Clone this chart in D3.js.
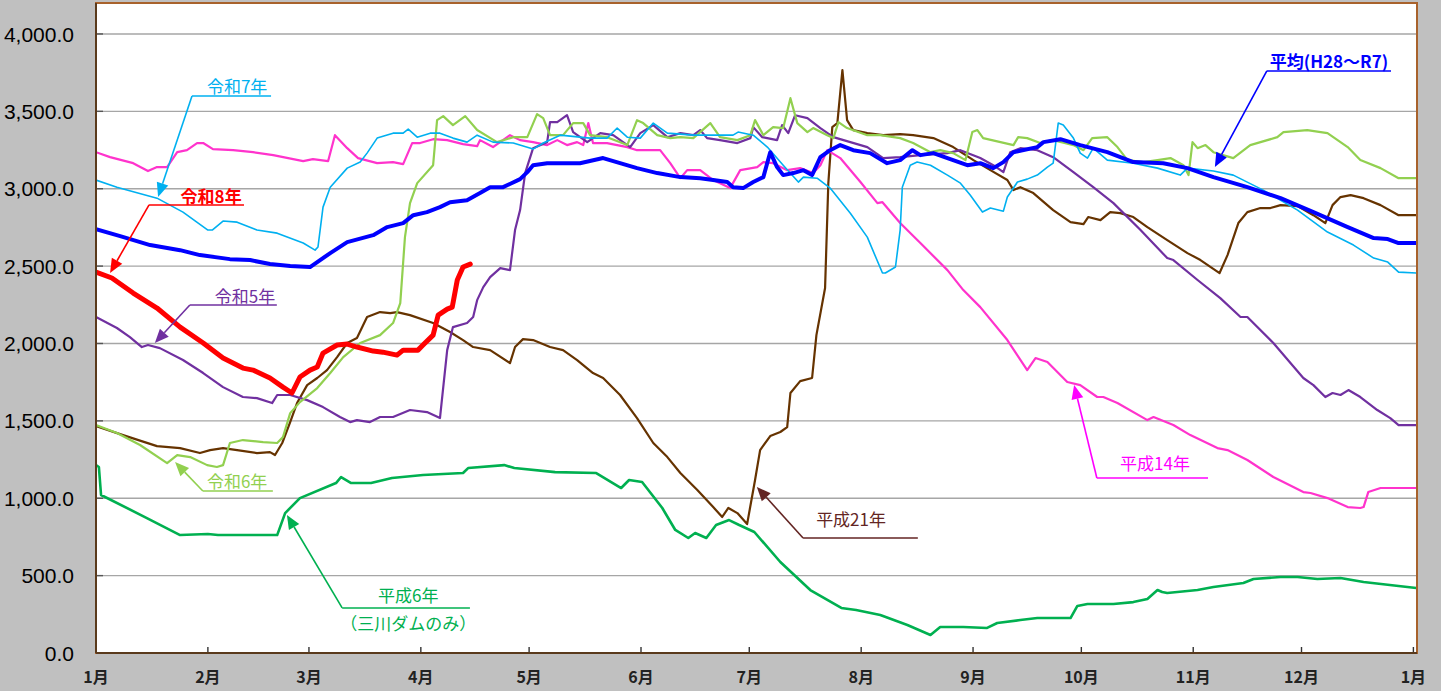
<!DOCTYPE html>
<html><head><meta charset="utf-8">
<script src="https://cdn.jsdelivr.net/npm/d3@7"></script>
<style>html,body{margin:0;padding:0;background:#c0c0c0;}svg{display:block;}</style>
</head><body>
<svg id="chart" width="1441" height="691"></svg>
<script>
// ---- Data (day of year, storage value) ----
const monthStarts = [0,31,59,90,120,151,181,212,243,273,304,334,365];
const monthLabels = ["1月","2月","3月","4月","5月","6月","7月","8月","9月","10月","11月","12月","1月"];
const yTicks = [0,500,1000,1500,2000,2500,3000,3500,4000];

const avgData = [[0,2739],[6.7,2694],[15,2636],[23.3,2603],[28.8,2571],[37.1,2545],[42.7,2539],[48.2,2513],[53.8,2500],[59.3,2494],[64.9,2584],[69.6,2655],[76.8,2700],[80.7,2752],[85.1,2778],[87.9,2829],[91.7,2849],[95.3,2881],[98.1,2913],[102.8,2926],[106.4,2972],[109.2,3010],[112.8,3010],[117.5,3062],[119.5,3107],[121.1,3152],[125,3165],[134.1,3165],[140.5,3198],[145.2,3165],[149.9,3133],[155.5,3101],[161.9,3075],[167.4,3068],[171,3056],[174.9,3043],[176.5,3010],[179.3,3004],[182.1,3043],[184.9,3075],[186.8,3236],[188.7,3140],[190.4,3088],[193.2,3101],[196,3120],[198.4,3088],[200.7,3204],[203.4,3249],[206.2,3282],[209.8,3249],[214.5,3230],[219.2,3165],[222.8,3185],[226.2,3249],[228.4,3217],[232,3230],[235.9,3198],[241.4,3152],[245,3165],[248.6,3133],[251.4,3172],[254.2,3236],[260.8,3269],[262.5,3301],[267.2,3320],[272.7,3282],[280.2,3236],[287.4,3172],[295.7,3165],[302.4,3133],[309.6,3075],[319,3010],[328.2,2939],[337.3,2849],[346.8,2752],[354,2681],[357.9,2675],[360.9,2649],[365.8,2649]];

const r8Data = [[0,2461],[4.4,2423],[10.3,2326],[16.9,2229],[23.3,2106],[29.7,2003],[35.2,1906],[40.7,1841],[43.5,1828],[48.2,1777],[51.8,1718],[54.3,1680],[56.5,1783],[59.3,1828],[61.3,1848],[62.9,1938],[66.8,1990],[69.6,1996],[72.3,1977],[76.8,1951],[79.5,1944],[83.4,1925],[85.1,1957],[89.2,1957],[90.6,1990],[93.4,2054],[94.8,2183],[97.3,2222],[98.7,2235],[100.1,2410],[101.7,2494],[103.7,2513]];

const r7Data = [[0,3056],[5.8,3010],[16.9,2939],[24.1,2849],[31,2733],[32.2,2733],[35.2,2791],[39.1,2784],[44.6,2733],[50.2,2713],[57.4,2649],[60.7,2603],[61.5,2623],[62.9,2881],[64.9,3010],[69.6,3133],[73.2,3172],[75.1,3230],[77.9,3327],[82.3,3359],[85.1,3359],[86.5,3385],[89,3333],[92.6,3359],[95.3,3359],[98.9,3327],[102.8,3301],[105.6,3346],[110,3301],[115.6,3295],[121.1,3256],[123.9,3295],[128.6,3346],[136.9,3327],[141.6,3327],[144.4,3392],[147.2,3333],[150.8,3327],[154.4,3424],[158.3,3359],[165.5,3346],[176.5,3346],[177.9,3366],[182.1,3346],[186,3269],[190.4,3152],[194.6,3043],[196,3075],[199.8,3068],[203.4,3004],[209,2842],[213.7,2687],[217.9,2455],[218.7,2455],[221.5,2494],[222.8,2733],[223.4,3010],[225.6,3152],[227.5,3172],[231.2,3152],[235.9,3088],[239.5,3036],[242.2,2959],[245.6,2849],[247.8,2875],[251.4,2855],[252.5,2946],[255.3,3043],[258,3062],[260.8,3088],[263.6,3140],[265.2,3165],[266.6,3424],[268,3411],[270.8,3327],[272.7,3230],[274.7,3198],[276.3,3262],[280.2,3185],[287.4,3165],[294.1,3133],[300.4,3088],[302.4,3133],[309.6,3114],[315.1,3088],[323.4,2991],[332.9,2862],[341.2,2720],[348.4,2636],[354,2552],[357.9,2526],[360.9,2461],[365.8,2455]];

const r6Data = [[0,1473],[5.8,1421],[12.2,1344],[19.7,1227],[22.5,1279],[26.1,1266],[30.8,1214],[33.5,1202],[35.2,1214],[37.1,1357],[40.7,1376],[46.3,1363],[50.2,1357],[51.8,1395],[53.8,1550],[56.5,1621],[61.3,1712],[64.9,1809],[68.5,1912],[73.2,2003],[78.7,2054],[82.3,2132],[84.3,2261],[85.6,2687],[87,2907],[89,3036],[93.4,3152],[94.5,3443],[96.2,3469],[98.9,3411],[102.3,3469],[105.6,3379],[111.1,3301],[115.6,3333],[119.5,3333],[122.2,3482],[123.9,3456],[125.8,3346],[129.4,3346],[132.2,3424],[135,3424],[136.9,3346],[141.6,3333],[147.2,3282],[149.9,3443],[151.6,3424],[155.5,3346],[159.1,3327],[161.9,3333],[165.5,3327],[170.2,3424],[172.9,3333],[177.7,3314],[181.3,3346],[182.6,3443],[184.9,3346],[187.6,3398],[190.4,3392],[192.4,3585],[194.3,3424],[197.1,3366],[198.7,3392],[202.6,3346],[204.3,3327],[205.7,3430],[208.1,3392],[213.7,3346],[217.3,3346],[222.8,3327],[226.4,3295],[231.2,3236],[233.9,3249],[237.5,3230],[240.9,3185],[242.8,3366],[244.2,3379],[245.8,3327],[250.6,3301],[254.2,3282],[255.5,3333],[258,3327],[261.6,3295],[265.2,3314],[270.8,3282],[273.6,3249],[276,3327],[280.2,3333],[283,3269],[285.8,3185],[290.2,3172],[294.1,3185],[297.7,3198],[301.3,3152],[302.7,3088],[303.8,3301],[305.2,3262],[307.4,3282],[309.6,3236],[315.1,3198],[319.8,3282],[327.3,3333],[329,3366],[335.6,3379],[341.2,3359],[346.8,3269],[350.3,3185],[355.9,3133],[360.9,3068],[365.8,3068]];

const r5Data = [[0,2171],[5.8,2100],[9.4,2041],[12.7,1977],[14.4,1990],[17.7,1970],[24.1,1893],[29.7,1809],[35.2,1718],[40.7,1654],[44.6,1647],[48.8,1615],[50.2,1667],[53.8,1667],[58.5,1634],[62.9,1589],[67.6,1525],[70.4,1492],[72.3,1505],[75.9,1492],[78.7,1525],[82.3,1525],[87,1570],[91.7,1557],[95.3,1518],[97.3,1957],[98.9,2106],[102.8,2132],[104.5,2171],[105.6,2280],[107.3,2364],[109.2,2429],[112,2487],[114.7,2474],[116.1,2733],[117.5,2862],[118.9,3101],[121.1,3262],[125,3301],[125.8,3430],[127.8,3430],[130.5,3475],[132.2,3366],[136.1,3301],[139.7,3359],[143.3,3346],[148,3269],[150.8,3359],[154.4,3411],[158.3,3333],[161.9,3359],[165.5,3346],[167.4,3379],[169.3,3327],[172.9,3314],[177.7,3295],[181.3,3327],[182.1,3398],[184.6,3333],[188.7,3314],[190.1,3411],[191.8,3359],[193.7,3475],[197.1,3456],[200.7,3392],[204.3,3333],[209,3301],[213.7,3269],[218.1,3198],[222.8,3204],[228.4,3217],[235.9,3230],[239.5,3249],[245,3198],[248.6,3152],[251.4,3107],[253.3,3236],[256.1,3262],[260.8,3249],[265.2,3204],[270.8,3107],[276.3,3010],[281.9,2907],[289.4,2733],[296.8,2552],[298.5,2539],[305.2,2410],[311.5,2293],[317.1,2171],[319,2171],[326.2,2003],[334.5,1777],[337.3,1731],[340.6,1654],[342.6,1680],[344.8,1667],[347,1699],[350.3,1654],[355,1570],[358.6,1518],[360.9,1473],[365.8,1473]];

const h14Data = [[0,3236],[3.9,3204],[10.3,3165],[14.4,3114],[16.9,3140],[19.7,3140],[22.5,3236],[25.2,3249],[28,3295],[29.7,3295],[32.4,3256],[38,3249],[43.5,3236],[49.1,3217],[57.4,3178],[60.1,3191],[64.3,3178],[66.2,3346],[69.6,3262],[72.6,3198],[77.9,3165],[82.3,3172],[85.1,3159],[87.6,3295],[89.8,3295],[93.4,3320],[97.3,3314],[101.7,3288],[105.6,3275],[106.4,3314],[110,3269],[114.7,3346],[117.5,3314],[121.1,3301],[125,3282],[127.8,3314],[130.5,3282],[133.3,3301],[135,3282],[136.4,3424],[137.7,3295],[141.6,3295],[147.2,3269],[149.9,3249],[156.3,3249],[159.1,3165],[161.9,3068],[163.8,3120],[167.4,3120],[171,3056],[175.7,3004],[178.5,3120],[183.2,3140],[184.9,3172],[187.6,3165],[191.5,3120],[195.1,3133],[198.7,3101],[200.7,3152],[202.6,3249],[206.2,3198],[211.8,3043],[216.5,2907],[217.9,2913],[222.8,2778],[228.4,2649],[235.9,2474],[240.3,2345],[245,2235],[252.5,2022],[258,1828],[260.3,1906],[263.6,1880],[269.1,1751],[272.7,1731],[277.4,1654],[279.1,1654],[283,1615],[291.3,1505],[293,1525],[298.5,1473],[303.2,1408],[310.7,1324],[313.5,1311],[319,1247],[326.2,1137],[334.5,1040],[336.5,1034],[341.2,1001],[346.8,943],[350.3,937],[351.2,943],[352.5,1040],[355.9,1066],[360.9,1066],[365.8,1066]];

const h21Data = [[0,1466],[7.5,1408],[16.9,1337],[23.3,1324],[28.8,1292],[31.6,1311],[35.2,1324],[39.1,1311],[44.6,1292],[48.2,1298],[49.6,1279],[51.6,1357],[53.8,1492],[55.7,1615],[58.5,1731],[61.3,1777],[64,1828],[66.8,1912],[69.6,2003],[72.3,2035],[75.1,2171],[78.7,2203],[81.5,2196],[83.4,2203],[87,2183],[93.4,2132],[98.1,2074],[101.7,2022],[104.5,1977],[109.2,1957],[114.7,1873],[116.1,1977],[118.3,2028],[121.1,2022],[125.8,1977],[129.4,1957],[133.3,1893],[137.7,1809],[140.5,1777],[145.2,1667],[149.9,1518],[154.4,1357],[158.3,1266],[161.9,1163],[166.6,1053],[171,943],[173.5,879],[175.2,937],[177.7,904],[180.4,833],[182.6,1118],[184,1311],[186.8,1402],[189.6,1428],[191.5,1460],[192.4,1680],[195.1,1757],[198.4,1777],[199.6,2054],[202,2358],[202.9,3036],[204,3398],[205.4,3424],[206.8,3766],[208.1,3443],[209.8,3379],[213.7,3359],[218.1,3346],[222.8,3353],[226.4,3346],[232,3327],[237.5,3269],[243.1,3185],[247.8,3120],[252.5,3056],[254.2,2991],[256.1,3010],[259.7,2972],[265.2,2862],[270,2784],[273.6,2771],[274.9,2817],[278.3,2797],[281,2849],[283.8,2842],[287.4,2817],[291.3,2752],[296.8,2668],[302.4,2584],[306,2539],[311.3,2455],[313.5,2571],[316.5,2778],[319,2849],[322.6,2875],[325.4,2875],[328.2,2894],[332.9,2888],[337.3,2829],[340.6,2778],[342.6,2894],[344.8,2946],[347.6,2959],[351.2,2939],[355.9,2894],[360.9,2829],[365.8,2829]];

const h6Data = [[0,1214],[0.8,1202],[1.4,1021],[14.1,872],[23.3,762],[31,769],[33.8,762],[50.2,762],[52.4,904],[56.5,1001],[66.5,1098],[67.9,1137],[70.7,1098],[76.2,1098],[82,1131],[90.6,1150],[101.7,1163],[103.1,1195],[113.1,1214],[115.9,1195],[127.2,1169],[138.6,1163],[145.5,1066],[147.7,1118],[151.3,1105],[156.9,937],[160.5,795],[164.1,743],[166,775],[169.1,743],[171.8,827],[175.4,859],[178.2,827],[182.4,782],[189.6,588],[197.9,407],[206.5,291],[210.6,278],[217.3,245],[224.8,181],[231.2,116],[233.9,168],[240.3,168],[246.9,162],[249.7,194],[256.1,213],[260.8,226],[270,226],[271.9,304],[274.7,317],[281.9,317],[287.4,329],[291.3,349],[294.1,407],[295.4,394],[296.8,388],[305.2,407],[309.6,426],[317.9,452],[320.7,478],[328.2,491],[332.9,491],[338.4,478],[344.8,485],[351.2,459],[360.9,433],[365.8,420]];

// series styling (drawing order)
const series = [
  {data: h6Data,  color: "#00b050", width: 2.6},
  {data: h21Data, color: "#663300", width: 2.2},
  {data: h14Data, color: "#ff33cc", width: 2.2},
  {data: r5Data,  color: "#7030a0", width: 2.2},
  {data: r6Data,  color: "#92d050", width: 2.2},
  {data: r7Data,  color: "#00b0f0", width: 1.6},
  {data: avgData, color: "#0000ff", width: 4},
  {data: r8Data,  color: "#ff0000", width: 5}
];

// annotations in data coordinates: text centre, underline from/to, arrow tip
const annotations = [
  {lines:["令和7年"], color:"#00b0f0", bold:false, tx:39.1, ty:3658, ux1:26.6, ux2:48.5, uy:3599, ax:17.2, ay:2947},
  {lines:["令和8年"], color:"#ff0000", bold:true,  tx:31.9, ty:2947, ux1:14.7, ux2:41.0, uy:2895, ax:3.9, ay:2456},
  {lines:["令和5年"], color:"#7030a0", bold:false, tx:41.3, ty:2300, ux1:26.0, ux2:50.1, uy:2249, ax:16.3, ay:2003},
  {lines:["令和6年"], color:"#92d050", bold:false, tx:39.1, ty:1105, ux1:29.6, ux2:49.0, uy:1047, ax:21.9, ay:1234},
  {lines:["平成6年","（三川ダムのみ）"], color:"#00b050", bold:false, tx:86.5, ty:368, ty2:187, ux1:68.2, ux2:103.6, uy:291, ax:52.9, ay:892},
  {lines:["平成21年"], color:"#632523", bold:false, tx:209.2, ty:859, ux1:195.9, ux2:227.7, uy:743, ax:183.1, ay:1073},
  {lines:["平成14年"], color:"#ff00ff", bold:false, tx:293.4, ty:1221, ux1:277.3, ux2:308.1, uy:1131, ax:271.0, ay:1732},
  {lines:["平均(H28～R7)"], color:"#0000ff", bold:true, tx:341.6, ty:3819, ux1:324.4, ux2:358.8, uy:3761, ax:310.0, ay:3141}
];

// ---- Drawing ----
const svg = d3.select("#chart");
const W = 1441, H = 691;
const x = d3.scaleLinear().domain([0, 366]).range([96, 1417]);
const y = d3.scaleLinear().domain([0, 4200]).range([653, 3]);

svg.append("rect").attr("width", W).attr("height", H).attr("fill", "#c0c0c0");
svg.append("rect").attr("x", x(0)).attr("y", y(4200)).attr("width", x(366) - x(0)).attr("height", y(0) - y(4200)).attr("fill", "#ffffff");

svg.append("defs").append("clipPath").attr("id", "plotclip")
  .append("rect").attr("x", x(0)).attr("y", y(4200)).attr("width", x(366) - x(0)).attr("height", y(0) - y(4200));

// gridlines
svg.append("g").selectAll("line").data(yTicks.filter(d => d > 0)).join("line")
  .attr("x1", x(0)).attr("x2", x(366)).attr("y1", d => y(d)).attr("y2", d => y(d))
  .attr("stroke", "#a6a6a6").attr("stroke-width", 1.4);

// y tick marks (inside)
svg.append("g").selectAll("line").data(yTicks).join("line")
  .attr("x1", x(0)).attr("x2", x(0) + 7).attr("y1", d => y(d)).attr("y2", d => y(d))
  .attr("stroke", "#555").attr("stroke-width", 1.4);

// x tick marks (inside)
svg.append("g").selectAll("line").data(monthStarts).join("line")
  .attr("x1", d => x(d)).attr("x2", d => x(d)).attr("y1", y(0)).attr("y2", y(0) - 6)
  .attr("stroke", "#333").attr("stroke-width", 1.4);

// y labels
const fmt = d3.format(",.1f");
svg.append("g").selectAll("text").data(yTicks).join("text")
  .attr("x", 74).attr("y", d => y(d)).attr("dy", "0.36em")
  .attr("text-anchor", "end")
  .attr("font-family", "'Liberation Sans', Arial, sans-serif").attr("font-size", 21)
  .attr("fill", "#000").text(d => fmt(d));

// x labels
svg.append("g").selectAll("text").data(monthStarts).join("text")
  .attr("x", d => x(d)).attr("y", 677).attr("dy", "0.36em")
  .attr("text-anchor", "middle")
  .attr("font-family", "'Noto Sans CJK JP', sans-serif").attr("font-size", 16).attr("font-weight", "bold")
  .attr("fill", "#222").text((d, i) => monthLabels[i]);

// series
const line = d3.line().x(d => x(d[0])).y(d => y(d[1])).curve(d3.curveLinear);
const gLines = svg.append("g").attr("clip-path", "url(#plotclip)");
series.forEach(s => {
  gLines.append("path").datum(s.data)
    .attr("d", line).attr("fill", "none")
    .attr("stroke", s.color).attr("stroke-width", s.width)
    .attr("stroke-linejoin", "round").attr("stroke-linecap", "round");
});

// plot border
svg.append("rect").attr("x", x(0)).attr("y", y(4200)).attr("width", x(366) - x(0)).attr("height", y(0) - y(4200))
  .attr("fill", "none").attr("stroke", "#a8622c").attr("stroke-width", 2);
svg.append("line").attr("x1", x(0)).attr("x2", x(0)).attr("y1", y(4200)).attr("y2", y(0)).attr("stroke", "#5a3a1c").attr("stroke-width", 2);
svg.append("line").attr("x1", x(0)).attr("x2", x(366)).attr("y1", y(0)).attr("y2", y(0)).attr("stroke", "#5a3a1c").attr("stroke-width", 2);

// annotations
const gAnn = svg.append("g");
annotations.forEach(a => {
  const sx = x(a.ux1), sy = y(a.uy), ex = x(a.ux2);
  const tipX = x(a.ax), tipY = y(a.ay);
  gAnn.append("line").attr("x1", sx).attr("x2", ex).attr("y1", sy).attr("y2", sy)
    .attr("stroke", a.color).attr("stroke-width", 1.6);
  const ang = Math.atan2(tipY - sy, tipX - sx);
  const L = 14, Wd = 6;
  const bx = tipX - L * Math.cos(ang), by = tipY - L * Math.sin(ang);
  gAnn.append("line").attr("x1", sx).attr("y1", sy).attr("x2", bx).attr("y2", by)
    .attr("stroke", a.color).attr("stroke-width", 1.6);
  const px = -Math.sin(ang), py = Math.cos(ang);
  gAnn.append("polygon")
    .attr("points", [[tipX, tipY], [bx + px * Wd, by + py * Wd], [bx - px * Wd, by - py * Wd]].map(p => p.join(",")).join(" "))
    .attr("fill", a.color);
  gAnn.append("text").attr("x", x(a.tx)).attr("y", y(a.ty)).attr("dy", "0.36em")
    .attr("text-anchor", "middle")
    .attr("font-family", "'Noto Sans CJK JP', sans-serif").attr("font-size", 17)
    .attr("font-weight", a.bold ? "bold" : "normal")
    .attr("fill", a.color).text(a.lines[0]);
  if (a.lines.length > 1) {
    gAnn.append("text").attr("x", x(a.tx)).attr("y", y(a.ty2)).attr("dy", "0.36em")
      .attr("text-anchor", "middle")
      .attr("font-family", "'Noto Sans CJK JP', sans-serif").attr("font-size", 17)
      .attr("fill", a.color).text(a.lines[1]);
  }
});
</script>
</body></html>
